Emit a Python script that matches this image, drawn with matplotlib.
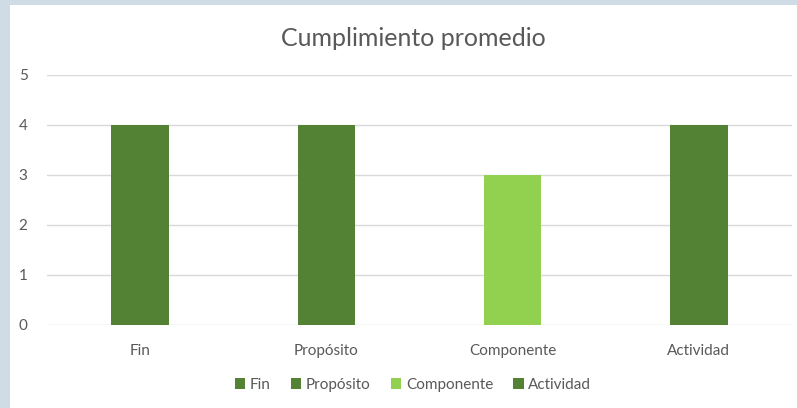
import matplotlib.pyplot as plt
from matplotlib.patches import Rectangle

categorias = ['Fin', 'Propósito', 'Componente', 'Actividad']
valores = [4, 4, 3, 4]
colores = ['#548235', '#548235', '#92D050', '#548235']

plt.rcParams['font.family'] = ['Lato', 'DejaVu Sans']

W, H = 797, 408
fig = plt.figure(figsize=(W / 100, H / 100), dpi=100)
fig.patch.set_facecolor('#CFDBE5')
fig.patches.append(Rectangle((10 / W, 0), 1 - 10 / W, 1 - 5 / H,
                             transform=fig.transFigure, facecolor='white',
                             edgecolor='none', zorder=-5))

ax = fig.add_axes([47 / W, 83 / H, (792 - 47) / W, 250 / H])
ax.set_facecolor('none')

x = range(len(categorias))
for i, (cat, val, col) in enumerate(zip(categorias, valores, colores)):
    ax.bar(i, val, width=0.31, color=col, label=cat, zorder=3)

ax.set_xlim(-0.5, len(categorias) - 0.5)
ax.set_ylim(0, 5)
ax.set_yticks(range(0, 6))
ax.set_xticks(list(x))
ax.set_xticklabels(categorias)
ax.grid(axis='y', color='#D9D9D9', linewidth=1, zorder=0)
for s in ax.spines.values():
    s.set_visible(False)
ax.tick_params(length=0, labelsize=11, colors='#595959', pad=14)
ax.tick_params(axis='y', pad=14)

fig.text(413 / W, 1 - 38 / H, 'Cumplimiento promedio', ha='center', va='center',
         fontsize=18, color='#595959')

fig.legend(loc='center', bbox_to_anchor=(413 / W, 1 - 385 / H), ncol=4,
           frameon=False, fontsize=11, handlelength=0.7, handleheight=0.7,
           handletextpad=0.3, columnspacing=1.3, labelcolor='#595959')

fig.savefig('out.png', dpi=100)
